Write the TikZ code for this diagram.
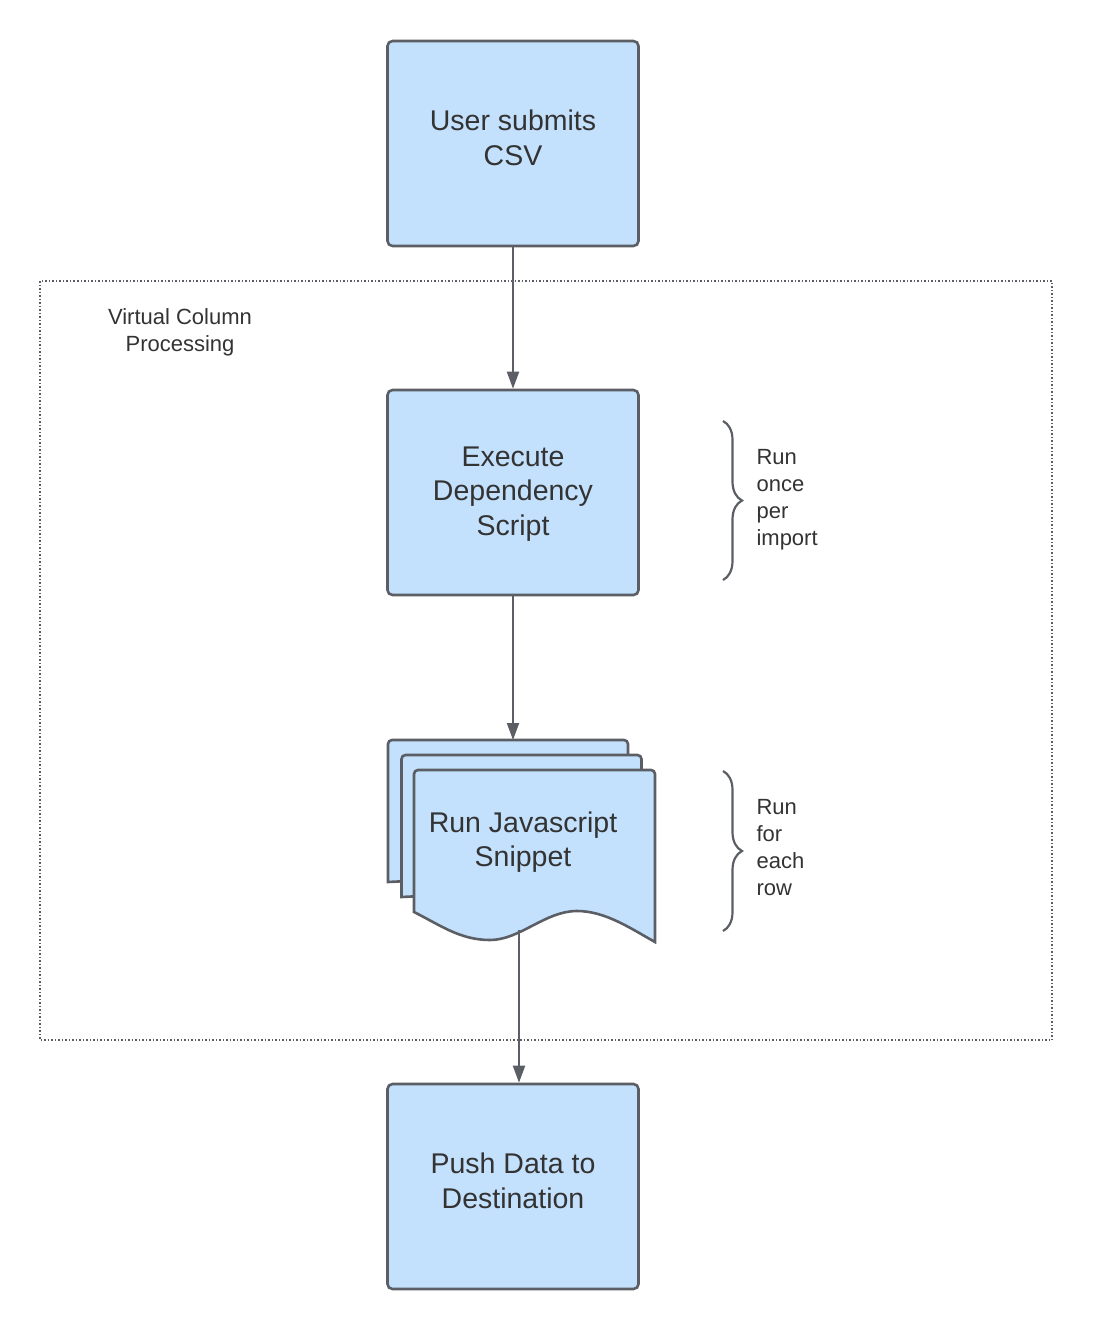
\documentclass[tikz,border=0pt]{standalone}
\usepackage{fontspec}
\setmainfont{Liberation Sans}
\usetikzlibrary{arrows.meta,decorations.pathreplacing}
\definecolor{boxblue}{HTML}{C3E0FC}
\definecolor{edgegray}{HTML}{5B5F65}
\definecolor{textgray}{HTML}{333333}

\begin{document}
\begin{tikzpicture}[x=1pt,y=-1pt,
		step box/.style={draw=edgegray,fill=boxblue,line width=2.6pt,rounded corners=5pt,minimum width=251pt,minimum height=205pt},
		box text/.style={align=center,font=\fontsize{28.5}{34.5}\selectfont,text=textgray},
		flow/.style={draw=edgegray,line width=2pt,-{Triangle[length=17pt,width=12pt]}},
		side note/.style={align=left,anchor=north west,font=\fontsize{22}{26.8}\selectfont,text=textgray},
		page/.style={draw=edgegray,fill=boxblue,line width=2.6pt}]
		\useasboundingbox (0,0) rectangle (1093,1330);
		\draw[edgegray,line width=1.5pt,dotted] (40,281) rectangle (1052,1040);
		\node[align=center,font=\fontsize{22}{27}\selectfont,text=textgray] (vcp) at (180,332) {Virtual Column\\Processing};
		\node[step box] (submit) at (513,143.5) {};
		\node[box text] (submittext) at (513,138) {User submits\\CSV};
		\node[step box] (depend) at (513,492.5) {};
		\node[box text] (dependtext) at (513,494) {Execute\\Dependency\\Script};
		\node[step box] (push) at (513,1186.5) {};
		\node[box text] (pushtext) at (513,1181) {Push Data to\\Destination};
		\foreach \dx/\dy in {0/0,13.5/15}{
			\draw[page,shift={(\dx,\dy)}] (388,820) [rounded corners=4pt] -- (388,740) -- (628,740) -- (628,800) [sharp corners] -- (628,870) -- (388,882) -- cycle;
		}
		\draw[page] (414,840) [rounded corners=4pt] -- (414,770) -- (655,770) -- (655,840) [sharp corners] -- (655,942)
			.. controls (630,928) and (605,911) .. (577,911)
			.. controls (545,911) and (520,940) .. (490,940)
			.. controls (460,940) and (440,925) .. (414,912) -- cycle;
		\node[box text] (snippet) at (523,842) {Run Javascript\\Snippet};
		\coordinate (stacktop) at (513,740);
		\coordinate (stackfoot) at (519,930);
		\draw[flow] (submit.south) -- (depend.north);
		\draw[flow] (depend.south) -- (stacktop);
		\draw[flow] (stackfoot) -- (push.north -| stackfoot);
		\draw[edgegray,line width=2.2pt,decorate,decoration={brace,amplitude=19pt}] (723,421) -- (723,580);
		\draw[edgegray,line width=2.2pt,decorate,decoration={brace,amplitude=19pt}] (723,771) -- (723,931);
		\node[side note] (once) at (753,446) {Run\\once\\per\\import};
		\node[side note] (each) at (753,796) {Run\\for\\each\\row};
	\end{tikzpicture}
\end{document}
